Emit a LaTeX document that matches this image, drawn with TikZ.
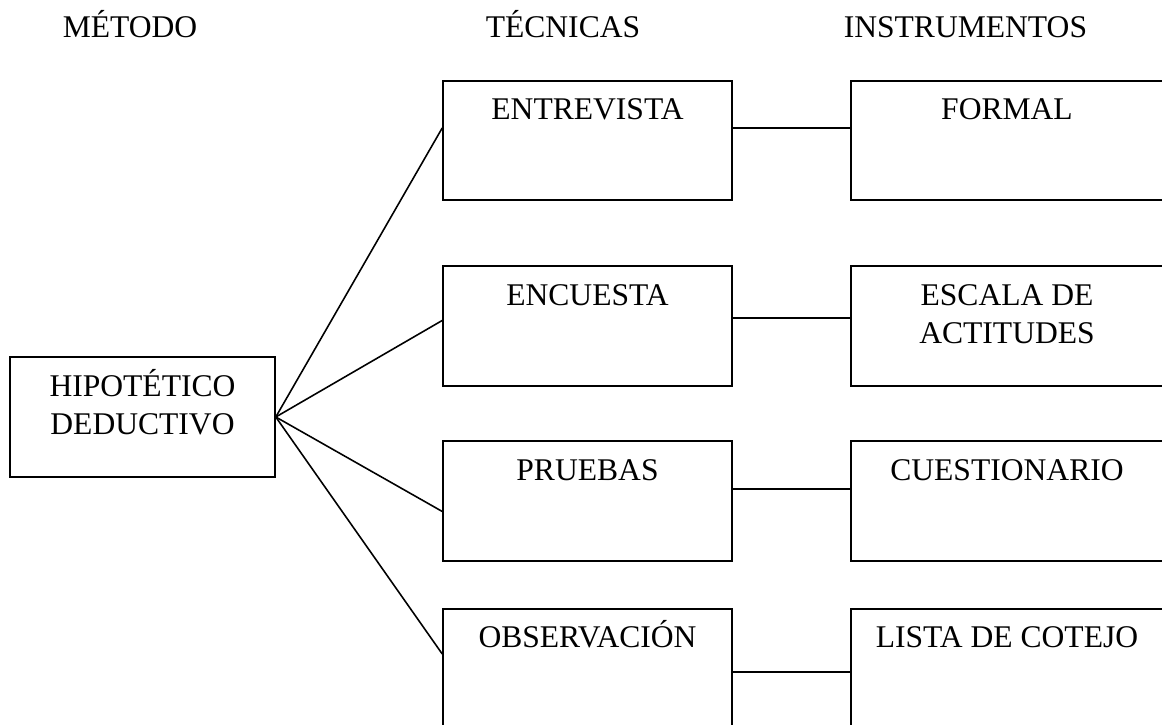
\documentclass[tikz,border=0pt,12pt]{standalone}
\usepackage{fontspec}
\setmainfont{Liberation Serif}
\usetikzlibrary{calc}

\begin{document}
\begin{tikzpicture}[x=0.38pt, y=-0.38pt, line width=0.6pt,
  caja/.style={draw, inner sep=0pt, minimum height=45.4pt},
  texto/.style={anchor=base, inner sep=0pt, align=center}]
\useasboundingbox (0,0) rectangle (1162,725);
\clip (0,0) rectangle (1162,725);

\node (MET) at (62,38) [anchor=base west, inner sep=0pt] {MÉTODO};
\node (TEC) at (485,38) [anchor=base west, inner sep=0pt] {TÉCNICAS};
\node (INS) at (843,38) [anchor=base west, inner sep=0pt] {INSTRUMENTOS};

\node (HIP) at (142.5,417) [caja, minimum width=100.7pt] {};
% two lines: base is the second line
\node (HIPt) at ($(HIP.north)+(0,78)$) [texto] {HIPOTÉTICO\\DEDUCTIVO};

\node (ENT) at (587.5,140.5) [caja, minimum width=109.8pt] {};
\node (ENC) at (587.5,326) [caja, minimum width=109.8pt] {};
\node (PRU) at (587.5,501) [caja, minimum width=109.8pt] {};
\node (OBS) at (587.5,668.5) [caja, minimum width=109.8pt] {};
\node (ENTt) at ($(ENT.north)+(0,40)$) [texto] {ENTREVISTA};
\node (ENCt) at ($(ENC.north)+(0,40)$) [texto] {ENCUESTA};
\node (PRUt) at ($(PRU.north)+(0,40)$) [texto] {PRUEBAS};
\node (OBSt) at ($(OBS.north)+(0,40)$) [texto] {OBSERVACIÓN};

\node (FOR) at (1007,140.5) [caja, minimum width=118.6pt] {};
\node (ESC) at (1007,326) [caja, minimum width=118.6pt] {};
\node (CUE) at (1007,501) [caja, minimum width=118.6pt] {};
\node (LIS) at (1007,668.5) [caja, minimum width=118.6pt] {};
\node (FORt) at ($(FOR.north)+(0,40)$) [texto] {FORMAL};
\node (ESCt) at ($(ESC.north)+(0,78)$) [texto] {ESCALA DE\\ACTITUDES};
\node (CUEt) at ($(CUE.north)+(0,40)$) [texto] {CUESTIONARIO};
\node (LISt) at ($(LIS.north)+(0,40)$) [texto] {LISTA DE COTEJO};

% metodo -> tecnicas
\coordinate (A1) at ($(ENT.north west)+(0,48)$);
\coordinate (A2) at ($(ENC.north west)+(0,55)$);
\coordinate (A3) at ($(PRU.north west)+(0,71)$);
\coordinate (A4) at ($(OBS.north west)+(0,46)$);
\draw (HIP.east) -- (A1);
\draw (HIP.east) -- (A2);
\draw (HIP.east) -- (A3);
\draw (HIP.east) -- (A4);

% tecnicas -> instrumentos
\draw ($(ENT.north east)+(0,48)$) -- ($(FOR.north west)+(0,48)$);
\draw ($(ENC.north east)+(0,52.5)$) -- ($(ESC.north west)+(0,52.5)$);
\draw ($(PRU.north east)+(0,48.5)$) -- ($(CUE.north west)+(0,48.5)$);
\draw ($(OBS.north east)+(0,64)$) -- ($(LIS.north west)+(0,64)$);

\end{tikzpicture}
\end{document}
